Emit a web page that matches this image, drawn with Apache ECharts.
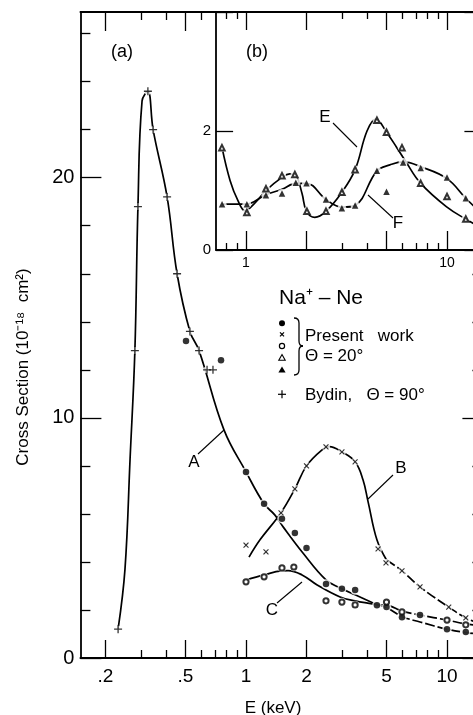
<!DOCTYPE html>
<html><head><meta charset="utf-8">
<script src="https://cdn.jsdelivr.net/npm/echarts@6/dist/echarts.min.js"></script>
<style>html,body{margin:0;padding:0;background:#fff}#c{width:473px;height:715px}</style>
</head><body><div id="c"></div>
<script>
// ================= DATA: panel (a) =================
// Bydin, theta = 90 deg (+)
const bydinE = [0.231,0.280,0.290,0.325,0.345,0.405,0.454,0.526,0.584,0.640,0.685];
const bydinS = [1.2,12.8,18.8,23.6,22.0,19.2,16.0,13.6,12.8,12.0,12.0];
// present work, filled circles
const fCircE = [0.503,0.751,1.0,1.23,1.51,1.75,2.0,2.5,3.0,3.49,4.48,5.0,5.97,7.34,10.0,12.4];
const fCircS = [13.2,12.4,7.75,6.42,5.8,5.2,4.58,3.08,2.88,2.83,2.2,2.12,1.7,1.79,1.2,1.08];
// crosses
const crossE = [1.0,1.257,1.494,1.75,2.0,2.5,3.0,3.49,4.54,4.97,5.97,7.34,10.2,12.4];
const crossS = [4.7,4.42,6.04,7.04,8.0,8.79,8.58,8.17,4.54,3.96,3.63,2.96,2.12,1.67];
// open circles
const oCircE = [1.0,1.23,1.51,1.73,2.5,3.0,3.49,5.0,5.97,10.0,12.4];
const oCircS = [3.17,3.38,3.75,3.79,2.38,2.33,2.21,2.33,1.92,1.58,1.38];
// curve A
const curveA_E = [0.231,0.25,0.265,0.28,0.29,0.304,0.325,0.345,0.405,0.454,0.526,0.584,0.777,1.0,1.23,1.39,1.53,1.92,2.5,2.94,3.49,4.48];
const curveA_S = [1.2,3.7,8.3,12.8,18.8,23.2,23.6,22.0,19.2,16.0,13.6,12.8,9.5,7.75,6.42,5.96,5.46,4.37,3.25,2.92,2.63,2.22];
const curveA2_E = [4.48,5.0,6.0,7.34,10.0,12.4,15];
const curveA2_S = [2.22,2.1,1.72,1.5,1.2,1.06,0.98];
// curve B
const curveB_E = [1.035,1.174,1.49,1.75,2.0,2.39,2.6,3.0,3.49,3.82,4.05,4.48,5.0];
const curveB_S = [4.2,4.92,6.04,7.04,8.0,8.67,8.8,8.58,8.17,7.42,6.5,4.92,4.08];
const curveB2_E = [5.0,5.97,7.34,10.2,12.4,15];
const curveB2_S = [4.08,3.63,2.96,2.12,1.67,1.4];
// curve C
const curveC_E = [1.0,1.23,1.5,1.62,1.9,2.26,2.94,3.49,4.48];
const curveC_S = [3.25,3.46,3.63,3.64,3.46,3.04,2.54,2.38,2.22];
const curveC2_E = [4.48,5.0,6.0,7.34,10.0,12.4,15];
const curveC2_S = [2.22,2.2,1.95,1.79,1.58,1.42,1.33];

// ================= DATA: panel (b) =================
const oTriE = [0.759,1.01,1.257,1.51,1.75,2.01,2.5,3.0,3.49,4.48,5.0,5.97,7.4,10.0,12.4];
const oTriV = [1.72,0.63,1.03,1.25,1.27,0.65,0.65,0.97,1.35,2.18,1.98,1.72,1.12,0.9,0.52];
const fTriE = [0.76,1.01,1.257,1.51,1.77,2.0,2.5,3.0,3.49,4.48,5.0,6.05,7.4,10.0,12.4];
const fTriV = [0.77,0.77,0.92,0.95,1.13,1.12,0.85,0.7,0.75,1.33,0.98,1.47,1.38,1.22,0.87];
const curveE_E = [0.76,0.833,0.912,0.99,1.1,1.257,1.51,1.65,1.77,1.9,2.0,2.2,2.5,3.0,3.49,4.0,4.43,5.0,5.63,6.2,7.4,10.0,12.4,15];
const curveE_V = [1.72,1.17,0.83,0.66,0.78,1.0,1.22,1.28,1.25,0.95,0.65,0.55,0.65,0.97,1.35,2.0,2.2,1.98,1.72,1.5,1.12,0.72,0.52,0.36];
const curveF_E = [0.76,1.0,1.257,1.51,1.77,2.0,2.5,3.0,3.49,4.48,5.2,6.05,7.4,10.0,12.4,15];
const curveF_V = [0.77,0.77,0.93,1.02,1.12,1.12,0.85,0.72,0.75,1.33,1.43,1.48,1.4,1.2,0.87,0.6];

// ================= TICKS =================
const mainXMajor = [0.2,0.5,1,2,5,10];
const mainXMinor = [0.3,0.4,0.6,0.7,0.8,0.9,3,4,6,7,8,9];
const mainXLabels = [0.2,0.5,1,2,5,10];
const mainTopMajor = [0.2,0.5];
const mainTopMinor = [0.3,0.4,0.6];
const mainYMajor = [0,10,20];
const mainYMinor = [2,4,6,8,12,14,16,18,22,24,26];
const mainYLabels = [0,10,20];
const insetXMajor = [1,2,5,10];
const insetXMinor = [0.8,0.9,3,4,6,7,8,9];
const insetXLabels = [1,10];
const insetYTicks = [0,2,4];
const insetYLabels = [0,2];

// ================= CHART =================
const FONT = '"Liberation Sans", Arial, sans-serif';
const BLACK = '#000';
const E_MIN = 0.15, E_MAX = 15, E_INSET_MIN = 0.71;

function fmtE(v){ const r = Math.round(v*100)/100; return r < 1 ? String(r).replace(/^0/, '') : String(r); }

function xAx(grid, pos, min, ticks, len, labels, showLine, fs, margin, z){
  return {
    type:'log', logBase:10, gridIndex:grid, position:pos, min:min, max:E_MAX, z:z,
    axisLine:{show:showLine, onZero:false, lineStyle:{color:BLACK, width:1.8}},
    axisTick:{show:true, inside:true, length:len, customValues:ticks, lineStyle:{color:BLACK, width:1.3}},
    axisLabel: labels ? {show:true, customValues:labels, formatter:fmtE, margin:margin, fontSize:fs, fontFamily:FONT, color:BLACK, hideOverlap:false} : {show:false},
    splitLine:{show:false}, minorTick:{show:false}, minorSplitLine:{show:false}
  };
}
function yAx(grid, pos, min, max, ticks, len, labels, showLine, fs, margin, z){
  return {
    type:'value', gridIndex:grid, position:pos, min:min, max:max, z:z,
    axisLine:{show:showLine, onZero:false, lineStyle:{color:BLACK, width:1.8}},
    axisTick:{show:true, inside:true, length:len, customValues:ticks, lineStyle:{color:BLACK, width:1.3}},
    axisLabel: labels ? {show:true, customValues:labels, margin:margin, fontSize:fs, fontFamily:FONT, color:BLACK, hideOverlap:false} : {show:false},
    splitLine:{show:false}
  };
}
function pts(xs, ys){ return xs.map((x,i)=>[x, ys[i]]); }
function curve(xs, ys, xi, yi, dashed, z){
  return {type:'line', data:pts(xs,ys), xAxisIndex:xi, yAxisIndex:yi, smooth:0.4, symbol:'none', showSymbol:false,
    lineStyle:{color:BLACK, width:1.7, type: dashed ? [10,3] : 'solid'}, z:z, silent:true, animation:false};
}
function halo(xs, ys, xi, yi, size, z){
  return {type:'scatter', data:pts(xs,ys), xAxisIndex:xi, yAxisIndex:yi, symbol:'circle', symbolSize:size,
    itemStyle:{color:'#fff'}, z:z, silent:true, animation:false};
}
const PLUS = 'path://M4.2,0H5.8V4.2H10V5.8H5.8V10H4.2V5.8H0V4.2H4.2Z';
function marks(xs, ys, xi, yi, symbol, size, z, opts){
  opts = opts || {};
  return {type:'scatter', data:pts(xs,ys), xAxisIndex:xi, yAxisIndex:yi, symbol:symbol, symbolSize:size,
    symbolRotate: opts.rotate || 0,
    itemStyle:{color:BLACK, borderColor:BLACK, borderWidth: opts.bw || 0}, z:z, silent:true, animation:false};
}

const series = [
  // panel (a) curves
  curve(curveA_E, curveA_S, 0, 0, false, 2),
  curve(curveA2_E, curveA2_S, 0, 0, true, 2),
  curve(curveB_E, curveB_S, 0, 0, false, 2),
  curve(curveB2_E, curveB2_S, 0, 0, true, 2),
  curve(curveC_E, curveC_S, 0, 0, false, 2),
  curve(curveC2_E, curveC2_S, 0, 0, true, 2),
  // halos
  halo(bydinE, bydinS, 0, 0, 7, 3),
  halo(fCircE, fCircS, 0, 0, 9.5, 3),
  halo(crossE, crossS, 0, 0, 8, 3),
  halo(oCircE, oCircS, 0, 0, 8.5, 3),
  // markers
  marks(bydinE, bydinS, 0, 0, PLUS, 8, 4),
  marks(fCircE, fCircS, 0, 0, 'circle', 6.5, 4),
  marks(crossE, crossS, 0, 0, PLUS, 7, 4, {rotate:45}),
  marks(oCircE, oCircS, 0, 0, 'emptyCircle', 5.2, 4, {bw:1.2}),
  // panel (b)
  curve(curveE_E, curveE_V, 4, 4, false, 10),
  curve(curveF_E, curveF_V, 4, 4, false, 10),
  halo(oTriE, oTriV, 4, 4, 8.5, 11),
  halo(fTriE, fTriV, 4, 4, 9, 11),
  marks(oTriE, oTriV, 4, 4, 'emptyTriangle', 5.5, 12, {bw:1.0}),
  marks(fTriE, fTriV, 4, 4, 'triangle', 6.5, 12)
];

function txt(x, y, text, fs, align, extra){
  return Object.assign({type:'text', x:x, y:y, z:20, silent:true,
    style:{text:text, fontSize:fs, fontFamily:FONT, fill:BLACK, align:align || 'center', verticalAlign:'middle'}}, extra || {});
}
function seg(x1,y1,x2,y2,w){
  return {type:'line', z:20, silent:true, shape:{x1:x1,y1:y1,x2:x2,y2:y2}, style:{stroke:BLACK, lineWidth:w || 1.1}};
}
function quad(x1,y1,cx,cy,x2,y2){
  return {type:'bezierCurve', z:20, silent:true, shape:{x1:x1,y1:y1,cpx1:cx,cpy1:cy,x2:x2,y2:y2}, style:{stroke:BLACK, fill:null, lineWidth:1.3}};
}

const graphics = [
  txt(122, 52, '(a)', 18),
  txt(257, 52, '(b)', 18),
  // curve labels + leaders
  txt(194, 462, 'A', 17), seg(198,454,224,430),
  txt(401, 468, 'B', 17), seg(393,475,368,499),
  txt(272, 610, 'C', 17), seg(277,603,302,582),
  txt(325, 117, 'E', 17), seg(333,123,357,147),
  txt(398, 223, 'F', 17), seg(368,195,393,218),
  // legend
  txt(279, 298.5, 'Na⁺ – Ne', 21, 'left'),
  {type:'circle', z:20, silent:true, shape:{cx:282, cy:323.3, r:3}, style:{fill:BLACK}},
  seg(280,332.3,284,336.3,1.2), seg(284,332.3,280,336.3,1.2),
  {type:'circle', z:20, silent:true, shape:{cx:282, cy:346, r:2.6}, style:{fill:'#fff', stroke:BLACK, lineWidth:1.2}},
  {type:'polygon', z:20, silent:true, shape:{points:[[282,354.6],[285.2,360.2],[278.8,360.2]]}, style:{fill:'#fff', stroke:BLACK, lineWidth:1.1}},
  {type:'polygon', z:20, silent:true, shape:{points:[[282,366.6],[285.6,372.6],[278.4,372.6]]}, style:{fill:BLACK}},
  // brace
  quad(294,318, 299,318, 299,323), seg(299,323,299,341,1.3), quad(299,341, 299,346, 303,346),
  quad(303,346, 299,346, 299,351), seg(299,351,299,370,1.3), quad(299,370, 299,375, 294,375),
  txt(305, 336.5, 'Present   work', 17, 'left'),
  txt(305, 356, 'Θ = 20°', 17, 'left'),
  seg(278,394.3,286,394.3,1.2), seg(282,390.3,282,398.3,1.2),
  txt(305, 395, 'Bydin,   Θ = 90°', 17, 'left'),
  // axis titles
  txt(273, 708, 'E (keV)', 17),
  txt(23, 367, 'Cross Section (10⁻¹⁸  cm²)', 17, 'center', {rotation: Math.PI/2})
];

const option = {
  backgroundColor:'#fff',
  animation:false,
  grid:[
    {left:80.4, top:12, width:402, height:646, show:false, outerBoundsMode:'none', containLabel:false},
    {left:216.1, top:12, width:266.3, height:238, show:true, backgroundColor:'#fff', borderWidth:0, z:5, outerBoundsMode:'none', containLabel:false}
  ],
  xAxis:[
    xAx(0,'bottom',E_MIN, mainXMajor, 18, mainXLabels, true, 19, 9, 1),
    xAx(0,'bottom',E_MIN, mainXMinor, 8, null, false, 19, 9, 1),
    xAx(0,'top',E_MIN, mainTopMajor, 19, null, true, 19, 9, 1),
    xAx(0,'top',E_MIN, mainTopMinor, 8, null, false, 19, 9, 1),
    xAx(1,'bottom',E_INSET_MIN, insetXMajor, 19, insetXLabels, true, 14, 6, 13),
    xAx(1,'bottom',E_INSET_MIN, insetXMinor, 7, null, false, 14, 6, 13),
    xAx(1,'top',E_INSET_MIN, insetXMajor, 18, null, true, 14, 6, 13),
    xAx(1,'top',E_INSET_MIN, insetXMinor, 7, null, false, 14, 6, 13)
  ],
  yAxis:[
    yAx(0,'left',0,26.9, mainYMajor, 21, mainYLabels, true, 20, 6, 1),
    yAx(0,'left',0,26.9, mainYMinor, 10, null, false, 20, 6, 1),
    yAx(0,'right',0,26.9, mainYMajor, 20, null, true, 20, 6, 1),
    yAx(0,'right',0,26.9, mainYMinor, 10, null, false, 20, 6, 1),
    yAx(1,'left',0,4, insetYTicks, 17, insetYLabels, true, 15, 5, 13),
    yAx(1,'right',0,4, insetYTicks, 18, null, true, 15, 5, 13)
  ],
  series: series,
  graphic: graphics
};

const chart = echarts.init(document.getElementById('c'), null, {renderer:'canvas'});
chart.setOption(option);
</script>
</body></html>
